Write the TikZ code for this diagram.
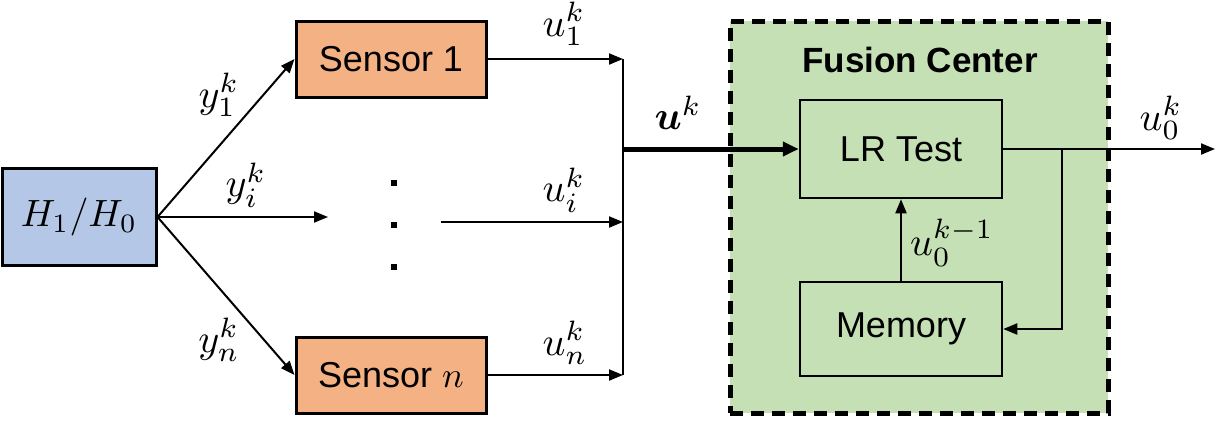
\documentclass[tikz,border=0pt]{standalone}
\usepackage{amsmath,bm,graphicx}
\usepackage{fontspec}
\setmainfont{Liberation Sans}
\usetikzlibrary{arrows.meta}
\definecolor{hblue}{HTML}{B4C7E7}
\definecolor{sorange}{HTML}{F4B183}
\definecolor{fgreen}{HTML}{C5E0B4}
\newcommand{\mylbl}[2][4]{\scalebox{#1}{\fontsize{10}{12}\selectfont$#2$}}
\tikzset{
  blk/.style={draw=black, line width=3pt, inner sep=0pt, font=\fontsize{36}{40}\selectfont},
  ibox/.style={draw=black, line width=2.5pt, inner sep=0pt, font=\fontsize{36}{40}\selectfont},
  conn/.style={line width=2pt, -{Triangle[length=14pt,width=11pt]}},
  plain/.style={line width=2pt},
  bold/.style={line width=5pt, -{Triangle[length=16pt,width=14pt]}},
  lbl/.style={inner sep=0pt},
  dotsq/.style={fill=black, minimum size=6pt, inner sep=0pt},
}
\begin{document}
\begin{tikzpicture}[x=1pt,y=-1pt]
\useasboundingbox (0,0) rectangle (1229,421);
% fusion center
\node[draw=black, fill=fgreen, line width=5pt, dash pattern=on 13pt off 8pt,
      minimum width=378pt, minimum height=392pt, inner sep=0pt] (fc) at (919,217) {};
\node[inner sep=0pt, font=\fontsize{35}{40}\selectfont\bfseries] (fct) at (920,60) {Fusion Center};
% blocks
\node[blk, fill=hblue, minimum width=154pt, minimum height=97pt] (H) at (79,217) {\mylbl[3.8]{H_1/H_0}};
\node[blk, fill=sorange, minimum width=190pt, minimum height=76pt] (s1) at (391,59) {Sensor 1};
\node[blk, fill=sorange, minimum width=190pt, minimum height=76pt] (sn) at (391,375) {Sensor \mylbl[3.6]{n}};
\node[ibox, minimum width=202pt, minimum height=98pt] (lr) at (901,149) {LR Test};
\node[ibox, minimum width=202pt, minimum height=94pt] (mem) at (901,329) {Memory};
% dots
\node[dotsq] (d1) at (394,183) {};
\node[dotsq] (d2) at (394,225) {};
\node[dotsq] (d3) at (394,267) {};
% coordinates
\coordinate (yi) at (328,217);
\coordinate (ui0) at (441,222);
\coordinate (j1) at (623,59);
\coordinate (ji) at (623,222);
\coordinate (jn) at (623,375);
\coordinate (jm) at (623,149);
\coordinate (out) at (1215,149);
\coordinate (br) at (1062,149);
% connectors
\draw[conn] (H.east) -- (s1.west);
\draw[conn] (H.east) -- (yi);
\draw[conn] (H.east) -- (sn.west);
\draw[conn] (s1.east) -- (j1);
\draw[conn] (ui0) -- (ji);
\draw[conn] (sn.east) -- (jn);
\draw[plain] (j1) -- (jn);
\draw[bold] (jm) -- (lr.west);
\draw[conn] (lr.east) -- (out);
\draw[conn] (br) |- (mem.east);
\draw[conn] (mem.north) -- (lr.south);
% labels
\node[lbl] (ly1) at (219,95) {\mylbl{y_1^k}};
\node[lbl] (lyi) at (246,185) {\mylbl{y_i^k}};
\node[lbl] (lyn) at (219,340) {\mylbl{y_n^k}};
\node[lbl] (lu1) at (564,24) {\mylbl{u_1^k}};
\node[lbl] (lui) at (564,190) {\mylbl{u_i^k}};
\node[lbl] (lun) at (565,343) {\mylbl{u_n^k}};
\node[lbl] (lu) at (678,113) {\mylbl{\bm{u}^k}};
\node[lbl] (lu0) at (1161,118) {\mylbl{u_0^k}};
\node[lbl] (lu0p) at (952,243) {\mylbl{u_0^{k-1}}};
\end{tikzpicture}
\end{document}
